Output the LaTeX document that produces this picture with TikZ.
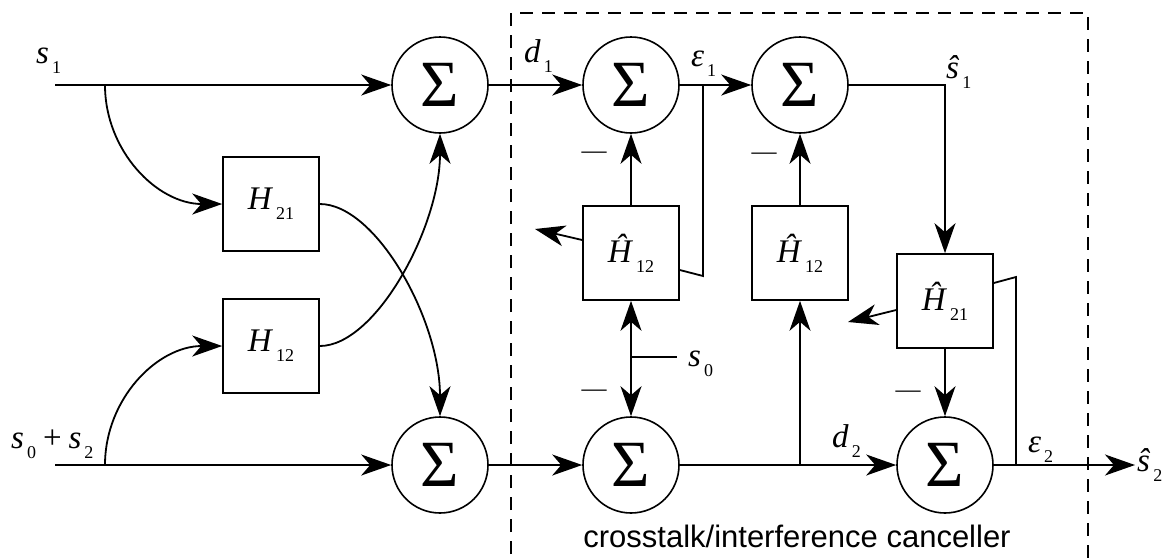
\documentclass[tikz,border=0pt]{standalone}
\usepackage{fontspec}
\setmainfont{Liberation Serif}
\newfontfamily\capfont{Liberation Sans}
\usetikzlibrary{arrows.meta,calc}

% italic symbol with a lowered subscript
\newcommand{\sig}[2]{\textit{#1}\kern3pt\raisebox{-10pt}{\fontsize{18}{18}\selectfont #2}}

\begin{document}
\begin{tikzpicture}[x=1pt,y=-1pt,
  sumnode/.style={circle, draw, line width=1.6pt, minimum size=96pt, inner sep=0pt,
    font=\fontsize{66}{66}\selectfont},
  filt/.style={draw, line width=1.6pt, minimum width=96pt, minimum height=94pt, inner sep=0pt,
    font=\fontsize{33}{33}\selectfont},
  wire/.style={line width=1.8pt},
  arr/.style={wire, -{Stealth[length=30pt,width=21pt,inset=9pt]}},
  lab/.style={inner sep=0pt, anchor=base west, font=\fontsize{33}{33}\selectfont},
  minus/.style={inner sep=0pt, font=\fontsize{25}{25}\selectfont},
  frame/.style={line width=1.3pt, dash pattern=on 13pt off 9pt},
]
\clip (0,0) rectangle (1176,558);
\fill[white] (0,0) rectangle (1176,558);

% canceller boundary
\draw[frame] (511,620) -- (511,13) -- (1088,13) -- (1088,620);
\node[inner sep=0pt, anchor=base, font=\capfont\fontsize{31}{31}\selectfont] (cap) at (797,547)
  {crosstalk/interference canceller};

% summing junctions
\node[sumnode] (S1) at (440,85) {Σ};
\node[sumnode] (S2) at (440,465) {Σ};
\node[sumnode] (S3) at (631,85) {Σ};
\node[sumnode] (S4) at (800,85) {Σ};
\node[sumnode] (S5) at (631,465) {Σ};
\node[sumnode] (S6) at (945,465) {Σ};

% mixing and adaptive filters
\node[filt] (H21) at (271,204) {\sig{H}{21}};
\node[filt] (H12) at (271,346) {\sig{H}{12}};
\node[filt] (Hh1) at (631,253) {\sig{Ĥ}{12}};
\node[filt] (Hh2) at (800,253) {\sig{Ĥ}{12}};
\node[filt] (Hh3) at (945,301) {\sig{Ĥ}{21}};

% inputs and branch points
\coordinate (in1) at (55,85);
\coordinate (in2) at (55,465);
\coordinate (b1) at (105,85);
\coordinate (b2) at (105,465);
\node[lab] (ls1) at (36,63) {\sig{s}{1}};
\node[lab] (ls02) at (11,448) {\sig{s}{0}\kern7pt+\kern7pt\sig{s}{2}};

\draw[arr] (in1) -- (S1.west);
\draw[arr] (in2) -- (S2.west);
\draw[arr] (b1) .. controls +(0,66) and +(-65,0) .. (H21.west);
\draw[arr] (b2) .. controls +(0,-66) and +(-65,0) .. (H12.west);
\draw[arr] (H21.east) .. controls +(56,0) and +(0,-97) .. (S2.north);
\draw[arr] (H12.east) .. controls +(56,0) and +(0,93) .. (S1.south);

% mixed signals into the canceller
\draw[arr] (S1.east) -- (S3.west);
\draw[arr] (S2.east) -- (S5.west);
\node[lab] (ld1) at (524,62) {\sig{d}{1}};

% first stage
\draw[arr] (S3.east) -- (S4.west);
\node[lab] (le1) at (691,66) {\sig{ε}{1}};
\draw[arr] (Hh1.north) -- (S3.south);
\node[minus] (m1) at (594,155) {—};
\coordinate (e1) at (703,85);
\coordinate (k1) at (703,276);
\draw[wire] ($(Hh1.east)+(0,17)$) -- (k1) -- (e1);
\coordinate (a1) at (535,229);
\draw[arr] ($(Hh1.west)+(0,-13)$) -- (a1);

% reference s0
\coordinate (j0) at (631,357);
\coordinate (r0) at (677,357);
\draw[wire] (j0) -- (r0);
\draw[arr] (j0) -- (Hh1.south);
\draw[arr] (j0) -- (S5.north);
\node[lab] (ls0) at (688,366) {\sig{s}{0}};
\node[minus] (m3) at (594,393) {—};

% second stage
\draw[arr] (S5.east) -- (S6.west);
\node[lab] (ld2) at (832,447) {\sig{d}{2}};
\coordinate (b3) at (Hh2.south |- S5.east);
\draw[arr] (b3) -- (Hh2.south);
\draw[arr] (Hh2.north) -- (S4.south);
\node[minus] (m2) at (764,156) {—};

% first output and cross filter
\coordinate (c1) at (Hh3.north |- S4.east);
\draw[arr] (S4.east) -- (c1) -- (Hh3.north);
\node[lab] (lo1) at (946,78) {\sig{ŝ}{1}};
\draw[arr] (Hh3.south) -- (S6.north);
\node[minus] (m4) at (908,394) {—};
\coordinate (a2) at (848,322);
\draw[arr] ($(Hh3.west)+(0,9)$) -- (a2);

% second output
\coordinate (out) at (1135,465);
\draw[arr] (S6.east) -- (out);
\coordinate (e2) at (1016,465);
\coordinate (k2) at (1016,277);
\draw[wire] ($(Hh3.east)+(0,-18)$) -- (k2) -- (e2);
\node[lab] (le2) at (1028,452) {\sig{ε}{2}};
\node[lab] (lo2) at (1137,471) {\sig{ŝ}{2}};
\end{tikzpicture}
\end{document}
